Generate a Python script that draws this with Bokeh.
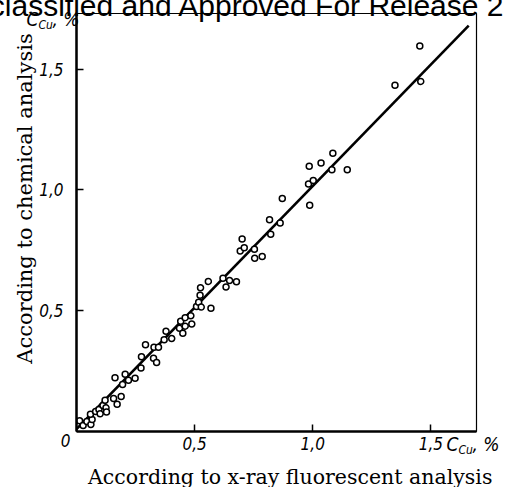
import math
from bokeh.plotting import figure
from bokeh.models import Range1d, FixedTicker, ColumnDataSource
from bokeh.core.properties import value
from bokeh.embed import file_html
from bokeh.resources import INLINE

# Copper content, %: x-ray fluorescent analysis (x) vs chemical analysis (y)
xrf_cu = [0.013, 0.028, 0.044, 0.061, 0.066, 0.059, 0.081, 0.095, 0.100, 0.112,
          0.125, 0.127, 0.121, 0.157, 0.172, 0.189, 0.163, 0.195, 0.206, 0.220,
          0.248, 0.273, 0.275, 0.292, 0.326, 0.328, 0.339, 0.347, 0.371, 0.379,
          0.403, 0.436, 0.441, 0.450, 0.460, 0.460, 0.488, 0.484, 0.508, 0.517,
          0.528, 0.569, 0.523, 0.525, 0.558, 0.620, 0.633, 0.648, 0.677, 0.693,
          0.710, 0.701, 0.753, 0.754, 0.786, 0.817, 0.822, 0.862, 0.871, 0.982,
          1.002, 0.987, 0.985, 1.035, 1.085, 1.081, 1.146, 1.348, 1.453, 1.457]
chem_cu = [0.044, 0.025, 0.041, 0.029, 0.050, 0.071, 0.083, 0.091, 0.073, 0.108,
           0.098, 0.081, 0.129, 0.137, 0.113, 0.145, 0.222, 0.195, 0.237, 0.212,
           0.220, 0.263, 0.309, 0.359, 0.303, 0.349, 0.286, 0.349, 0.380, 0.415,
           0.385, 0.427, 0.456, 0.407, 0.471, 0.436, 0.445, 0.479, 0.517, 0.535,
           0.515, 0.510, 0.564, 0.595, 0.621, 0.634, 0.598, 0.625, 0.620, 0.747,
           0.761, 0.797, 0.754, 0.717, 0.724, 0.876, 0.816, 0.863, 0.964, 1.024,
           1.039, 0.936, 1.098, 1.111, 1.152, 1.083, 1.083, 1.433, 1.596, 1.449]

# Calibration line
fit_x = [0.0, 1.66]
fit_y = [0.01, 1.68]

tick_values = [0.5, 1.0, 1.5]
tick_labels = ["0,5", "1,0", "1,5"]

x_title = "According to  x-ray fluorescent analysis"
y_title = "According to chemical analysis"

X_MAX, Y_MAX = 1.693, 1.73

TICK_FONT = "'Liberation Sans Narrow', 'DejaVu Sans Condensed', 'Liberation Sans', sans-serif"
TITLE_FONT = "DejaVu Serif"

p = figure(width=508, height=487,
           x_range=Range1d(0, X_MAX), y_range=Range1d(0, Y_MAX),
           output_backend="svg", toolbar_location=None,
           min_border_left=76, min_border_right=32,
           min_border_top=13, min_border_bottom=56)

p.xgrid.visible = False
p.ygrid.visible = False
p.outline_line_color = "black"
p.outline_line_width = 1.2
p.background_fill_color = "white"
p.border_fill_color = "white"

overrides = {v: t for v, t in zip(tick_values, tick_labels)}
for ax in (p.xaxis[0], p.yaxis[0]):
    ax.ticker = FixedTicker(ticks=tick_values, minor_ticks=[])
    ax.major_label_overrides = overrides
    ax.axis_line_width = 2.5
    ax.axis_line_color = "black"
    ax.major_tick_in = 7
    ax.major_tick_out = 0
    ax.major_tick_line_width = 1.5
    ax.minor_tick_line_color = None
    ax.major_label_text_font = TICK_FONT
    ax.major_label_text_font_style = "italic"
    ax.major_label_text_font_size = "17px"
    ax.major_label_text_color = "black"

p.xaxis.major_label_standoff = 5
p.yaxis.major_label_standoff = 13
p.yaxis.major_label_orientation = "horizontal"

p.line(fit_x, fit_y, line_color="black", line_width=2.6)
p.scatter(xrf_cu, chem_cu, marker="circle", size=6,
          fill_color="white", line_color="black", line_width=1.5)


def side_text(x, y, dx, dy, text, size, font=TICK_FONT, style="italic",
              align="left", baseline="alphabetic", angle=0.0):
    # text anchored at a corner of the frame, shifted by pixel offsets;
    # drawn on the overlay level so it may sit outside the frame
    src = ColumnDataSource(dict(x=[x], y=[y], t=[text]))
    p.text(x="x", y="y", text="t", source=src, x_offset=dx, y_offset=dy,
           angle=angle, text_font=value(font), text_font_style=style,
           text_font_size=size, text_align=align,
           text_baseline=baseline, text_color="black", level="overlay")


# axis titles
side_text(0, 0, 217, 45, x_title, "20.5px", font=TITLE_FONT, style="normal",
          align="center", baseline="middle")
side_text(0, 0, -52, -233, y_title, "21px", font=TITLE_FONT, style="normal",
          align="center", baseline="middle", angle=math.pi / 2)

# shared origin label
side_text(0, 0, -11, 9, "0", "17px", align="center", baseline="middle")


def unit_label(x, y, dx, dy):
    # C with subscript Cu, followed by ", %"
    side_text(x, y, dx, dy, "C", "19px")
    side_text(x, y, dx + 12, dy + 6, "Cu", "12px")
    side_text(x, y, dx + 26, dy, ", %", "19px")


unit_label(X_MAX, 0, -30, 12)
unit_label(0, Y_MAX, -50, 5)

# header stamp running across the top edge
side_text(0, Y_MAX, -125, -8, "Declassified and Approved For Release 2", "30px",
          font="Liberation Sans", style="normal")

open("out.html", "w").write(file_html(p, INLINE))
